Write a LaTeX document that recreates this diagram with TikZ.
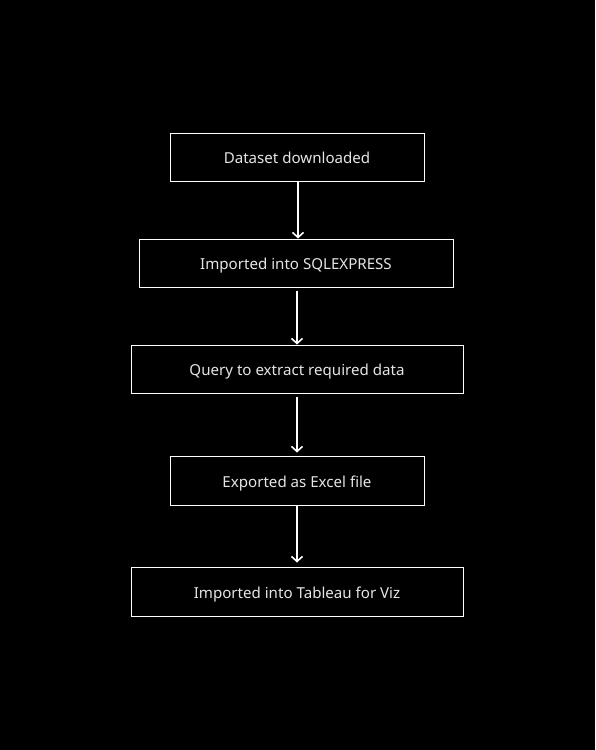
\documentclass[tikz,border=0pt]{standalone}
\usepackage{fontspec}
\setmainfont{Noto Sans}
\usetikzlibrary{arrows.meta}
\begin{document}
\begin{tikzpicture}[x=1pt,y=-1pt,
  stepbox/.style={draw=white,line width=1pt,fill=black,text=white!90!black,inner sep=0pt,
    text height=13pt,text depth=0pt,
    font=\fontsize{15.1}{18}\selectfont},
  flow/.style={draw=white,line width=1.6pt,-{Straight Barb[length=5pt,width=11pt,line width=1.6pt]}}]
\fill[black] (0,0) rectangle (595,750);
\useasboundingbox (0,0) rectangle (595,750);
\node[stepbox,minimum width=254pt,minimum height=48pt] (a) at (297,157) {Dataset downloaded};
\node[stepbox,minimum width=314pt,minimum height=48pt] (b) at (296,263) {Imported into SQLEXPRESS};
\node[stepbox,minimum width=332pt,minimum height=48pt] (c) at (297,369) {Query to extract required data};
\node[stepbox,minimum width=254pt,minimum height=49pt] (d) at (297,480.5) {Exported as Excel file};
\node[stepbox,minimum width=332pt,minimum height=49pt] (e) at (297,591.5) {Imported into Tableau for Viz};
\draw[flow] ([xshift=1pt]a.south) -- ([xshift=1pt]a.south |- b.north);
\draw[flow] ([xshift=1pt,yshift=-3pt]b.south) -- ([xshift=1pt]b.south |- c.north);
\draw[flow] ([yshift=-3pt]c.south) -- ([yshift=3pt]c.south |- d.north);
\draw[flow] (d.south) -- ([yshift=4pt]d.south |- e.north);
\end{tikzpicture}
\end{document}
